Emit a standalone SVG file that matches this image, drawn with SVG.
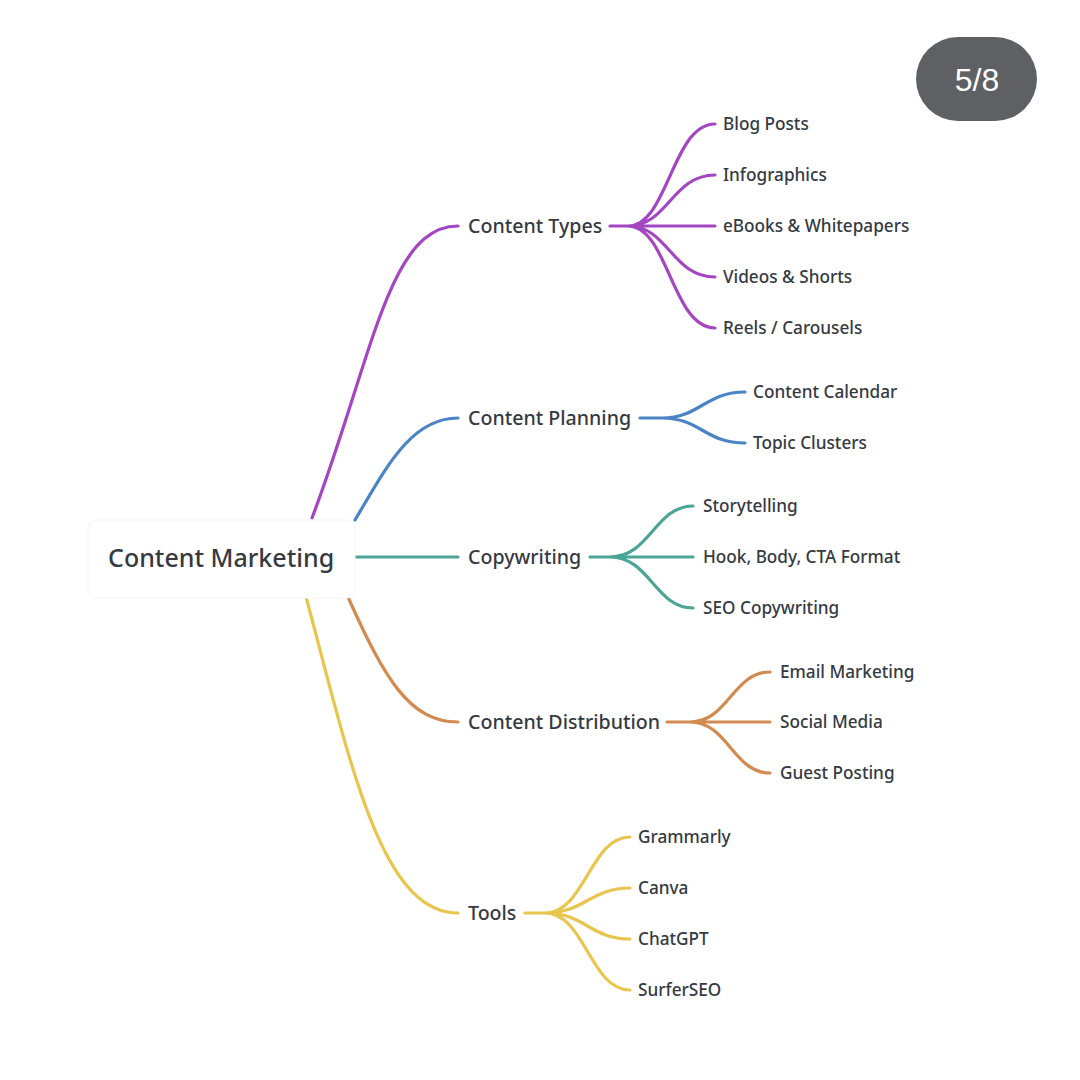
<svg xmlns="http://www.w3.org/2000/svg" width="1080" height="1080" viewBox="0 0 1080 1080">
<style>
text{font-family:"Noto Sans","DejaVu Sans",sans-serif;fill:#353a42;font-weight:500}
.l1{font-size:19.6px}
.l2{font-size:17.2px}
.c{fill:none;stroke-width:3.2;stroke-linecap:round}
.pu{stroke:#a446c2}.bl{stroke:#4a84c4}.te{stroke:#4aa596}.br{stroke:#d18a4f}.ye{stroke:#e8c54c}
</style>
<rect width="1080" height="1080" fill="#ffffff"/>
<g id="badge">
<rect x="916" y="37" width="121" height="84" rx="42" fill="#5f6064"/>
<text x="977" y="91" text-anchor="middle" style="font-family:'Liberation Sans',sans-serif;font-size:32px;font-weight:400;fill:#ffffff">5/8</text>
</g>
<g id="connectors">
<path class="c pu" d="M312,518 C372,360 388,226 458,226"/>
<path class="c bl" d="M355,520 C385,470 410,418 458,418"/>
<path class="c te" d="M355,557 L458,557"/>
<path class="c br" d="M348,597 C385,680 410,722 458,722"/>
<path class="c ye" d="M306,597 C350,760 380,913 458,913"/>
<path class="c pu" d="M610,226 L628,226 C668,226 672,124 715,124 M628,226 C668,226 672,175 715,175 M628,226 L715,226 M628,226 C668,226 672,277 715,277 M628,226 C668,226 672,328 715,328"/>
<path class="c bl" d="M640,418 L662,418 C700,418 705,392 745,392 M662,418 C700,418 705,443 745,443"/>
<path class="c te" d="M590,557 L610,557 C650,557 655,506 693,506 M610,557 L693,557 M610,557 C650,557 655,608 693,608"/>
<path class="c br" d="M667,722 L690,722 C728,722 733,672 770,672 M690,722 L770,722 M690,722 C728,722 733,773 770,773"/>
<path class="c ye" d="M525,913 L545,913 C585,913 590,837 630,837 M545,913 C585,913 590,888 630,888 M545,913 C585,913 590,939 630,939 M545,913 C585,913 590,990 630,990"/>
</g>
<g id="root">
<rect x="88" y="520" width="267" height="78" rx="8" fill="#ffffff" stroke="#f5f6f7" stroke-width="1.2"/>
<text x="108" y="567" style="font-size:25px">Content Marketing</text>
</g>
<g id="n-types"><text class="l1" x="468" y="233">Content Types</text></g>
<g id="n-planning"><text class="l1" x="468" y="425">Content Planning</text></g>
<g id="n-copy"><text class="l1" x="468" y="564">Copywriting</text></g>
<g id="n-dist"><text class="l1" x="468" y="729">Content Distribution</text></g>
<g id="n-tools"><text class="l1" x="468" y="920">Tools</text></g>
<g id="n-blog"><text class="l2" x="723" y="130">Blog Posts</text></g>
<g id="n-info"><text class="l2" x="723" y="181">Infographics</text></g>
<g id="n-ebooks"><text class="l2" x="723" y="232">eBooks &amp; Whitepapers</text></g>
<g id="n-videos"><text class="l2" x="723" y="283">Videos &amp; Shorts</text></g>
<g id="n-reels"><text class="l2" x="723" y="334">Reels / Carousels</text></g>
<g id="n-calendar"><text class="l2" x="753" y="398">Content Calendar</text></g>
<g id="n-clusters"><text class="l2" x="753" y="449">Topic Clusters</text></g>
<g id="n-story"><text class="l2" x="703" y="512">Storytelling</text></g>
<g id="n-hook"><text class="l2" x="703" y="563">Hook, Body, CTA Format</text></g>
<g id="n-seocopy"><text class="l2" x="703" y="614">SEO Copywriting</text></g>
<g id="n-email"><text class="l2" x="780" y="678">Email Marketing</text></g>
<g id="n-social"><text class="l2" x="780" y="728">Social Media</text></g>
<g id="n-guest"><text class="l2" x="780" y="779">Guest Posting</text></g>
<g id="n-grammarly"><text class="l2" x="638" y="843">Grammarly</text></g>
<g id="n-canva"><text class="l2" x="638" y="894">Canva</text></g>
<g id="n-chatgpt"><text class="l2" x="638" y="945">ChatGPT</text></g>
<g id="n-surfer"><text class="l2" x="638" y="996">SurferSEO</text></g>
</svg>
